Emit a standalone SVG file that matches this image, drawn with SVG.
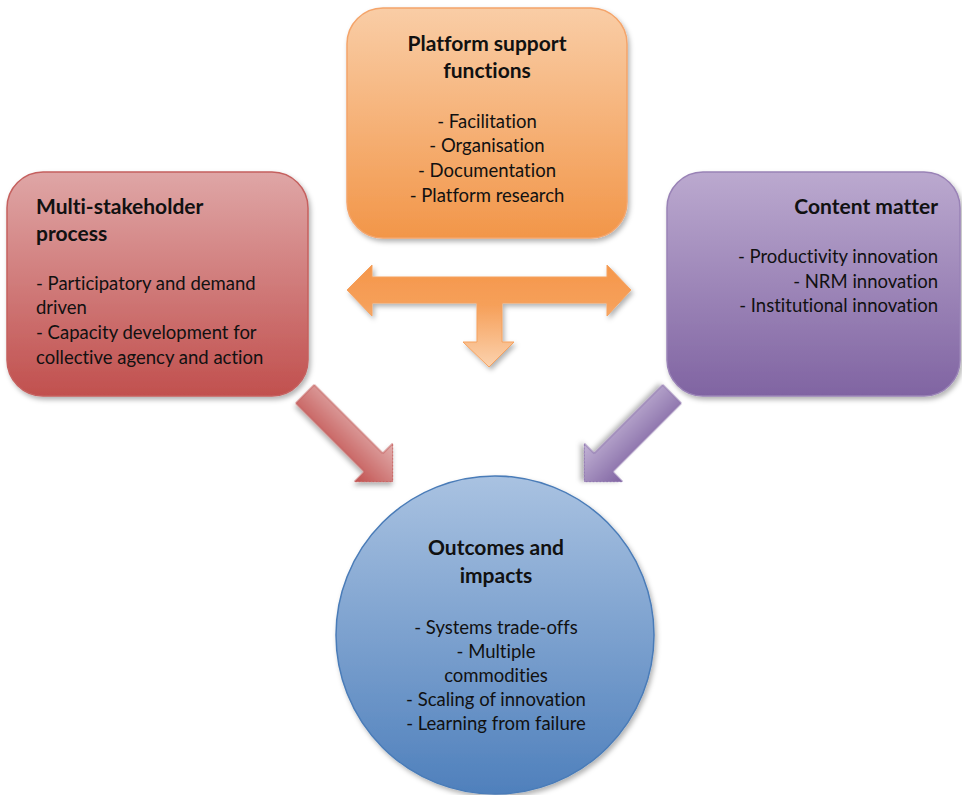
<svg xmlns="http://www.w3.org/2000/svg" width="962" height="795" viewBox="0 0 962 795">
<style>
  .t { font-family: Lato, "Liberation Sans", sans-serif; fill: #111; font-variant-ligatures: none; }
  .h { font-size: 21px; font-weight: bold; }
  .b { font-size: 18.5px; }
</style>
<defs>
  <filter id="sh" x="-10%" y="-10%" width="125%" height="125%">
    <feDropShadow dx="2" dy="3" stdDeviation="2.5" flood-color="#000" flood-opacity="0.3"/>
  </filter>
  <linearGradient id="gOr" x1="0" y1="0" x2="0" y2="1">
    <stop offset="0" stop-color="#F9CDA6"/>
    <stop offset="1" stop-color="#F29649"/>
  </linearGradient>
  <linearGradient id="gRd" x1="0" y1="0" x2="0" y2="1">
    <stop offset="0" stop-color="#DFA6A6"/>
    <stop offset="1" stop-color="#C1504E"/>
  </linearGradient>
  <linearGradient id="gPu" x1="0" y1="0" x2="0" y2="1">
    <stop offset="0" stop-color="#BBA9CF"/>
    <stop offset="1" stop-color="#8064A2"/>
  </linearGradient>
  <linearGradient id="gBl" x1="0" y1="0" x2="0" y2="1">
    <stop offset="0" stop-color="#A9C2E1"/>
    <stop offset="1" stop-color="#4F80BC"/>
  </linearGradient>
  <linearGradient id="gT" gradientUnits="userSpaceOnUse" x1="0" y1="265" x2="0" y2="367">
    <stop offset="0" stop-color="#F5964A"/>
    <stop offset="0.4" stop-color="#F6A05A"/>
    <stop offset="1" stop-color="#FBD2AE"/>
  </linearGradient>
  <linearGradient id="gRa" gradientUnits="userSpaceOnUse" x1="0" y1="-27" x2="0" y2="27">
    <stop offset="0" stop-color="#E2AFAE"/>
    <stop offset="1" stop-color="#C1504E"/>
  </linearGradient>
  <linearGradient id="gPa" gradientUnits="userSpaceOnUse" x1="0" y1="27" x2="0" y2="-27">
    <stop offset="0" stop-color="#C3B4D6"/>
    <stop offset="1" stop-color="#7F63A1"/>
  </linearGradient>
</defs>
<rect width="962" height="795" fill="#fff"/>

<g id="platform">
  <rect x="347" y="8" width="280" height="230" rx="36" fill="url(#gOr)" stroke="#F4A46A" stroke-width="1.5" filter="url(#sh)"/>
  <text class="t h" x="487" y="51" text-anchor="middle">Platform support</text>
  <text class="t h" x="487" y="78" text-anchor="middle">functions</text>
  <text class="t b" x="487" y="128" text-anchor="middle">- Facilitation</text>
  <text class="t b" x="487" y="152" text-anchor="middle">- Organisation</text>
  <text class="t b" x="487" y="177" text-anchor="middle">- Documentation</text>
  <text class="t b" x="487" y="202" text-anchor="middle">- Platform research</text>
</g>

<g id="multistakeholder">
  <rect x="7" y="172" width="301" height="224" rx="36" fill="url(#gRd)" stroke="#C5605E" stroke-width="1.5" filter="url(#sh)"/>
  <text class="t h" x="36" y="214">Multi-stakeholder</text>
  <text class="t h" x="36" y="241">process</text>
  <text class="t b" x="36" y="290">- Participatory and demand</text>
  <text class="t b" x="36" y="314">driven</text>
  <text class="t b" x="36" y="339">- Capacity development for</text>
  <text class="t b" x="36" y="364">collective agency and action</text>
</g>

<g id="content">
  <rect x="667" y="172" width="293" height="224" rx="36" fill="url(#gPu)" stroke="#9982B6" stroke-width="1.5" filter="url(#sh)"/>
  <text class="t h" x="938" y="214" text-anchor="end">Content matter</text>
  <text class="t b" x="938" y="263" text-anchor="end">- Productivity innovation</text>
  <text class="t b" x="938" y="288" text-anchor="end">- NRM innovation</text>
  <text class="t b" x="938" y="312" text-anchor="end">- Institutional innovation</text>
</g>

<g id="outcomes">
  <circle cx="495" cy="635" r="159" fill="url(#gBl)" stroke="#4A7CB8" stroke-width="1.5" filter="url(#sh)"/>
  <text class="t h" x="496" y="555" text-anchor="middle">Outcomes and</text>
  <text class="t h" x="496" y="583" text-anchor="middle">impacts</text>
  <text class="t b" x="496" y="634" text-anchor="middle">- Systems trade-offs</text>
  <text class="t b" x="496" y="658" text-anchor="middle">- Multiple</text>
  <text class="t b" x="496" y="682" text-anchor="middle">commodities</text>
  <text class="t b" x="496" y="706" text-anchor="middle">- Scaling of innovation</text>
  <text class="t b" x="496" y="730" text-anchor="middle">- Learning from failure</text>
</g>

<g id="connectors">
  <polygon points="347,290 372,265 372,277 607,277 607,265 631,290 607,316 607,303 502,303 502,342 514,342 489,367 463,342 477,342 477,303 372,303 372,316" fill="url(#gT)" stroke="#F5A15E" stroke-width="1" filter="url(#sh)"/>
  <polygon transform="translate(305,394) rotate(45)" points="0,-13 97,-13 97,-27 124,0 97,27 97,13 0,13" fill="url(#gRa)" stroke="#C5605E" stroke-width="1" filter="url(#sh)"/>
  <polygon transform="translate(672,394) rotate(135)" points="0,-13 97,-13 97,-27 124,0 97,27 97,13 0,13" fill="url(#gPa)" stroke="#8E74AE" stroke-width="1" filter="url(#sh)"/>
</g>
</svg>
